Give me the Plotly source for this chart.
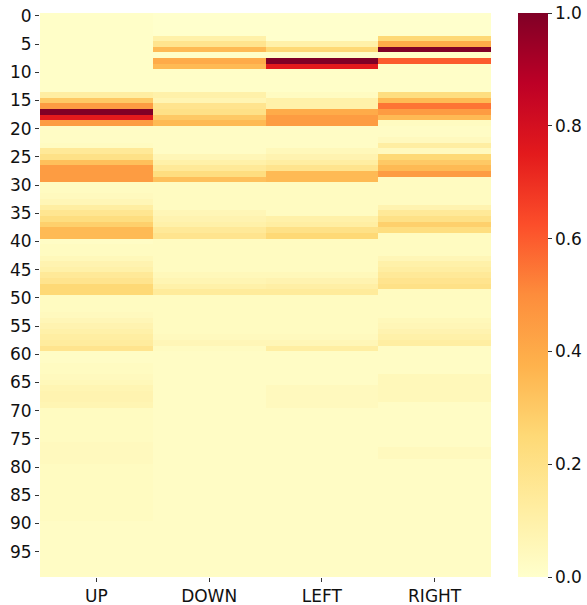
import plotly.graph_objects as go

actions = ["UP", "DOWN", "LEFT", "RIGHT"]
states = list(range(100))
ytick_vals = list(range(0, 100, 5))
cbar_ticks = [0.0, 0.2, 0.4, 0.6, 0.8, 1.0]

up = [
    0.01, 0.01, 0.01, 0.01, 0.01, 0.01, 0.01, 0.01, 0.01, 0.01,
    0.01, 0.01, 0.01, 0.01, 0.12, 0.30, 0.45, 1.00, 0.75, 0.45,
    0.02, 0.02, 0.02, 0.03, 0.15, 0.20, 0.33, 0.45, 0.45, 0.45,
    0.03, 0.03, 0.04, 0.06, 0.12, 0.17, 0.22, 0.28, 0.35, 0.35,
    0.02, 0.03, 0.03, 0.05, 0.08, 0.10, 0.15, 0.18, 0.25, 0.25,
    0.03, 0.03, 0.03, 0.04, 0.06, 0.08, 0.10, 0.12, 0.13, 0.18,
    0.02, 0.02, 0.03, 0.03, 0.04, 0.05, 0.07, 0.08, 0.08, 0.07,
    0.03, 0.03, 0.03, 0.03, 0.03, 0.03, 0.04, 0.04, 0.04, 0.04,
    0.03, 0.03, 0.03, 0.03, 0.03, 0.03, 0.03, 0.03, 0.03, 0.03,
    0.02, 0.02, 0.02, 0.02, 0.02, 0.02, 0.02, 0.02, 0.02, 0.02,
]
down = [
    0.00, 0.00, 0.00, 0.00, 0.10, 0.18, 0.35, 0.01, 0.40, 0.35,
    0.01, 0.01, 0.01, 0.01, 0.10, 0.07, 0.18, 0.20, 0.30, 0.35,
    0.02, 0.02, 0.02, 0.02, 0.02, 0.06, 0.10, 0.15, 0.22, 0.33,
    0.03, 0.03, 0.03, 0.03, 0.03, 0.06, 0.08, 0.10, 0.15, 0.18,
    0.03, 0.03, 0.03, 0.03, 0.03, 0.03, 0.05, 0.07, 0.10, 0.14,
    0.03, 0.03, 0.03, 0.03, 0.03, 0.03, 0.03, 0.04, 0.06, 0.03,
    0.02, 0.02, 0.02, 0.02, 0.02, 0.02, 0.02, 0.02, 0.02, 0.02,
    0.02, 0.02, 0.02, 0.02, 0.02, 0.02, 0.02, 0.02, 0.02, 0.02,
    0.02, 0.02, 0.02, 0.02, 0.02, 0.02, 0.02, 0.02, 0.02, 0.02,
    0.02, 0.02, 0.02, 0.02, 0.02, 0.02, 0.02, 0.02, 0.02, 0.02,
]
left = [
    0.00, 0.00, 0.00, 0.00, 0.00, 0.10, 0.25, 0.01, 1.00, 0.75,
    0.01, 0.01, 0.01, 0.01, 0.03, 0.10, 0.10, 0.40, 0.45, 0.45,
    0.02, 0.02, 0.02, 0.02, 0.05, 0.08, 0.12, 0.18, 0.35, 0.35,
    0.03, 0.03, 0.03, 0.03, 0.03, 0.03, 0.10, 0.12, 0.20, 0.25,
    0.03, 0.03, 0.03, 0.03, 0.03, 0.03, 0.05, 0.08, 0.11, 0.14,
    0.03, 0.03, 0.03, 0.03, 0.03, 0.03, 0.03, 0.04, 0.06, 0.12,
    0.02, 0.02, 0.02, 0.02, 0.02, 0.02, 0.04, 0.04, 0.04, 0.04,
    0.02, 0.02, 0.02, 0.02, 0.02, 0.02, 0.02, 0.02, 0.02, 0.02,
    0.02, 0.02, 0.02, 0.02, 0.02, 0.02, 0.02, 0.02, 0.02, 0.02,
    0.02, 0.02, 0.02, 0.02, 0.02, 0.02, 0.02, 0.02, 0.02, 0.02,
]
right = [
    0.00, 0.00, 0.00, 0.00, 0.25, 0.40, 1.00, 0.01, 0.60, 0.01,
    0.01, 0.01, 0.01, 0.01, 0.22, 0.35, 0.55, 0.45, 0.35, 0.03,
    0.02, 0.02, 0.04, 0.12, 0.04, 0.25, 0.30, 0.35, 0.45, 0.03,
    0.03, 0.03, 0.03, 0.03, 0.08, 0.15, 0.20, 0.28, 0.22, 0.03,
    0.03, 0.03, 0.03, 0.06, 0.10, 0.12, 0.15, 0.18, 0.20, 0.03,
    0.03, 0.03, 0.03, 0.03, 0.05, 0.06, 0.08, 0.10, 0.12, 0.02,
    0.02, 0.02, 0.02, 0.02, 0.05, 0.05, 0.05, 0.05, 0.05, 0.02,
    0.02, 0.02, 0.02, 0.02, 0.02, 0.02, 0.02, 0.04, 0.04, 0.02,
    0.02, 0.02, 0.02, 0.02, 0.02, 0.02, 0.02, 0.02, 0.02, 0.02,
    0.02, 0.02, 0.02, 0.02, 0.02, 0.02, 0.02, 0.02, 0.02, 0.02,
]

ylorrd = ['#ffffcc', '#ffeda0', '#fed976', '#feb24c', '#fd8d3c',
          '#fc4e2a', '#e31a1c', '#bd0026', '#800026']
colorscale = [[i / (len(ylorrd) - 1), c] for i, c in enumerate(ylorrd)]

z = [[up[i], down[i], left[i], right[i]] for i in states]

fig = go.Figure(go.Heatmap(
    z=z, x=actions, y=states,
    colorscale=colorscale, zmin=0, zmax=1,
    colorbar=dict(
        x=1.06, xanchor="left", xpad=0, y=0.5, yanchor="middle", ypad=0,
        len=1.0, lenmode="fraction", thickness=30, thicknessmode="pixels",
        outlinewidth=0, tickvals=cbar_ticks,
        ticktext=[f"{v:.1f}" for v in cbar_ticks],
        ticks="outside", ticklen=4, tickcolor="#333",
        ticklabeloverflow="allow",
        tickfont=dict(size=17, color="#111"),
    ),
))

fig.update_layout(
    width=587, height=605,
    margin=dict(l=40, r=96, t=13, b=28, autoexpand=False),
    paper_bgcolor="white", plot_bgcolor="white",
    font=dict(family="DejaVu Sans", size=17, color="#111"),
)
fig.update_xaxes(ticks="outside", ticklen=4, tickcolor="#333",
                 showgrid=False, zeroline=False, showline=False,
                 automargin=False, ticklabeloverflow="allow")
fig.update_yaxes(autorange="reversed", tickvals=ytick_vals,
                 ticktext=[str(v) for v in ytick_vals],
                 ticks="outside", ticklen=4, tickcolor="#333",
                 showgrid=False, zeroline=False, showline=False,
                 automargin=False, ticklabeloverflow="allow")

fig.write_html(
    "out.html",
    config={"displayModeBar": False},
    post_script="document.body.style.margin='0';"
                "document.body.style.overflow='hidden';",
)
